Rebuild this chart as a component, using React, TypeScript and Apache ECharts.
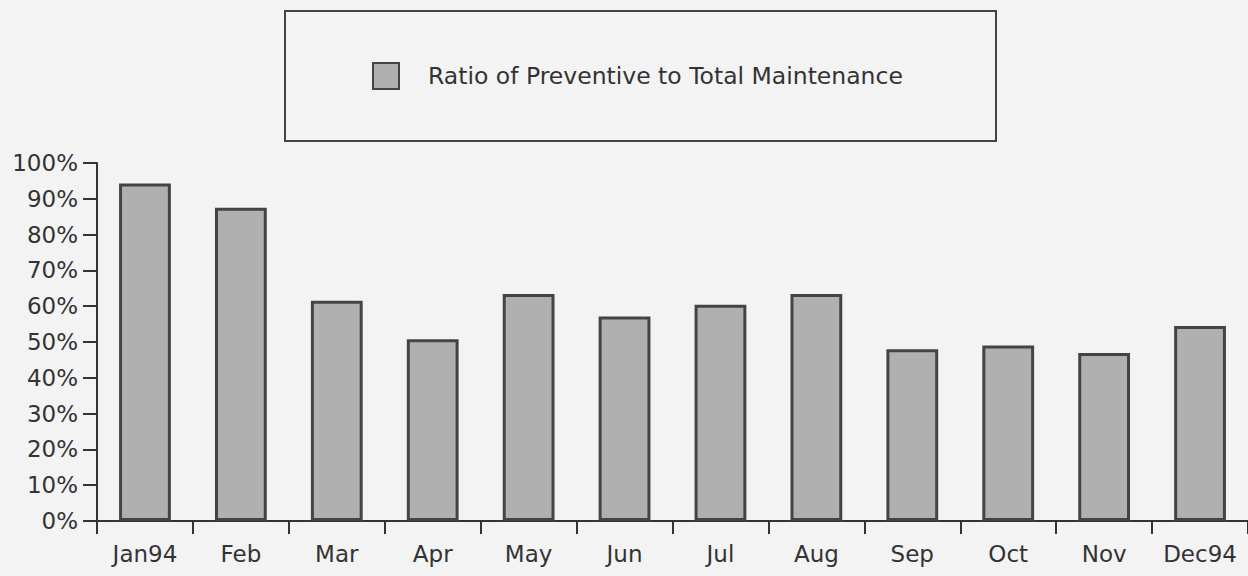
import React, { useEffect, useRef } from "react";
import * as echarts from "echarts";

const categories = ["Jan94", "Feb", "Mar", "Apr", "May", "Jun", "Jul", "Aug", "Sep", "Oct", "Nov", "Dec94"];
const ratioValues = [94.3, 87.5, 61.5, 50.8, 63.4, 57.1, 60.4, 63.4, 48.0, 49.0, 46.9, 54.5];
const seriesName = "Ratio of Preventive to Total Maintenance";

export default function App() {
  const ref = useRef<HTMLDivElement>(null);
  useEffect(() => {
    if (!ref.current) return;
    const chart = echarts.init(ref.current, undefined, { renderer: "svg" });
    const font = "DejaVu Sans";
    chart.setOption({
      animation: false,
      backgroundColor: "#f3f3f3",
      textStyle: { fontFamily: font, color: "#333" },
      grid: { left: 97, top: 163, width: 1158, height: 358, containLabel: false },
      graphic: [
        {
          type: "rect",
          shape: { x: 285, y: 11, width: 711, height: 130 },
          style: { fill: "none", stroke: "#444", lineWidth: 2 },
          silent: true,
        },
      ],
      legend: {
        left: 372,
        top: 62,
        padding: 0,
        itemWidth: 26,
        itemHeight: 26,
        icon: "rect",
        itemStyle: { color: "#b0b0b0", borderColor: "#444", borderWidth: 2 },
        textStyle: { fontFamily: font, fontSize: 23.5, color: "#333", padding: [0, 0, 0, 24] },
        data: [seriesName],
      },
      xAxis: {
        type: "category",
        data: categories,
        boundaryGap: true,
        axisLine: { lineStyle: { color: "#333", width: 2 } },
        axisTick: { show: true, length: 13, lineStyle: { color: "#333", width: 2 } },
        axisLabel: { fontFamily: font, fontSize: 23, color: "#333", margin: 21, interval: 0 },
      },
      yAxis: {
        type: "value",
        min: 0,
        max: 100,
        interval: 10,
        splitLine: { show: false },
        axisLine: { show: true, lineStyle: { color: "#333", width: 2 } },
        axisTick: { show: true, length: 14, lineStyle: { color: "#333", width: 2 } },
        axisLabel: { fontFamily: font, fontSize: 23, color: "#333", margin: 19, formatter: "{value}%" },
      },
      series: [
        {
          name: seriesName,
          type: "bar",
          data: ratioValues,
          barWidth: "54%",
          itemStyle: { color: "#b0b0b0", borderColor: "#444", borderWidth: 3 },
        },
      ],
    });
    return () => chart.dispose();
  }, []);
  return (
    <div
      ref={ref}
      style={{ position: "fixed", left: 0, top: 0, width: 1248, height: 576 }}
    />
  );
}
